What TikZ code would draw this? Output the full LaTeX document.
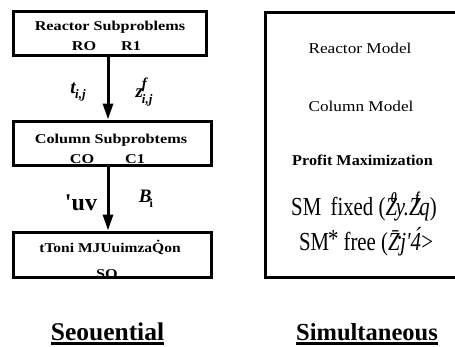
\documentclass[tikz,border=0pt]{standalone}
\usepackage{fontspec}
\setmainfont{Liberation Serif}[Ligatures=TeXOff]
\usepackage{graphicx}
\usetikzlibrary{arrows.meta}
\newcommand{\bi}[1]{\textbf{\textit{#1}}}
\begin{document}
\begin{tikzpicture}[x=1pt,y=-1pt,
  box/.style={draw,line width=3pt,inner sep=0pt,rectangle},
  txt/.style={inner sep=0pt,anchor=base},
  lbl/.style={inner sep=0pt},
  flow/.style={line width=3pt,-{Triangle[length=16pt,width=10pt]}},
  uline/.style={line width=2.5pt}
]
\useasboundingbox (0,0) rectangle (455,346);
% left column texts
\node[txt] (r1t) at (110,30) {\scalebox{1.2}[1]{\fontsize{13.5}{16}\selectfont\bfseries Reactor Subproblems}};
\node[txt] (r1a) at (84,50) {\scalebox{1.2}[1]{\fontsize{13.5}{16}\selectfont\bfseries RO}};
\node[txt] (r1b) at (131,50) {\scalebox{1.2}[1]{\fontsize{13.5}{16}\selectfont\bfseries R1}};
\node[txt] (c1t) at (111,143) {\scalebox{1.2}[1]{\fontsize{13.5}{16}\selectfont\bfseries Column Subprobtems}};
\node[txt] (c1a) at (82,163) {\scalebox{1.2}[1]{\fontsize{13.5}{16}\selectfont\bfseries CO}};
\node[txt] (c1b) at (135,163) {\scalebox{1.2}[1]{\fontsize{13.5}{16}\selectfont\bfseries C1}};
\node[txt] (s1t) at (110,252) {\scalebox{1.15}[1]{\fontsize{13.5}{16}\selectfont\bfseries tToni MJUuimza\.{Q}on}};
\node[txt] (s1a) at (107,278) {\scalebox{1.2}[1]{\fontsize{13.5}{16}\selectfont\bfseries SO}};
% boxes
\node[box,minimum width=193pt,minimum height=44pt] (r1) at (109.5,33) {};
\node[box,minimum width=198pt,minimum height=44pt] (c1) at (112,143) {};
\node[box,minimum width=198pt,minimum height=45pt] (s1) at (112,254.5) {};
\node[box,minimum width=205pt,minimum height=265pt] (sim) at (367.5,144.5) {};
% arrows
\coordinate (ax) at (108,0);
\draw[flow] (r1.south -| ax) -- (c1.north -| ax);
\draw[flow] (c1.south -| ax) -- (s1.north -| ax);
% arrow labels
\node[lbl] (l1) at (78,92) {\fontsize{19}{20}\selectfont\bi{t}\kern-.05em\raisebox{-.3em}{\fontsize{13}{13}\selectfont\bi{i,j}}};
\node[lbl] (l2) at (144,92) {\fontsize{19}{20}\selectfont\bi{z}\kern-.05em\raisebox{.5em}{\rlap{\fontsize{15}{15}\selectfont\bi{f}}}\raisebox{-.3em}{\fontsize{13}{13}\selectfont\bi{i,j}}};
\node[lbl] (l3) at (81,203) {\fontsize{24}{26}\selectfont\bfseries 'uv};
\node[lbl] (l4) at (146,199) {\fontsize{19}{20}\selectfont\bi{B}\kern-.1em\raisebox{-.25em}{\fontsize{12}{12}\selectfont\bfseries i}};
% right box texts
\node[txt] (m1) at (360,53) {\scalebox{1.15}[1]{\fontsize{15}{18}\selectfont Reactor Model}};
\node[txt] (m2) at (361,111) {\scalebox{1.15}[1]{\fontsize{15}{18}\selectfont Column Model}};
\node[txt] (m3) at (362.5,165) {\scalebox{1.08}[1]{\fontsize{15}{18}\selectfont\bfseries Profit Maximization}};
\node[txt] (m4) at (364,215) {\scalebox{0.8}[1]{\fontsize{26}{30}\selectfont SM\hspace{.45em}fixed (\textit{Z\kern-.3em\raisebox{.5em}{\fontsize{15}{15}\selectfont\bi{0}}\kern-.05em y.Z\kern-.25em\raisebox{.5em}{\fontsize{15}{15}\selectfont\bi{f}}q})}};
\node[txt] (m5) at (366,250) {\scalebox{0.8}[1]{\fontsize{26}{30}\selectfont SM\kern-.05em\raisebox{.1em}{*} free (\textit{\={Z}\kern-.1em\raisebox{.3em}{\fontsize{14}{14}\selectfont\textbullet}\kern-.05em j'\'{4}}>}};
% bottom labels
\node[txt] (seq) at (107.5,340) {\fontsize{25.5}{30}\selectfont\bfseries Seouential};
\node[txt] (simu) at (367,340) {\fontsize{24.5}{30}\selectfont\bfseries Simultaneous};
\draw[uline] ([yshift=-3.5pt]seq.base west) -- ([yshift=-3.5pt]seq.base east);
\draw[uline] ([yshift=-3.5pt]simu.base west) -- ([yshift=-3.5pt]simu.base east);
\end{tikzpicture}
\end{document}
